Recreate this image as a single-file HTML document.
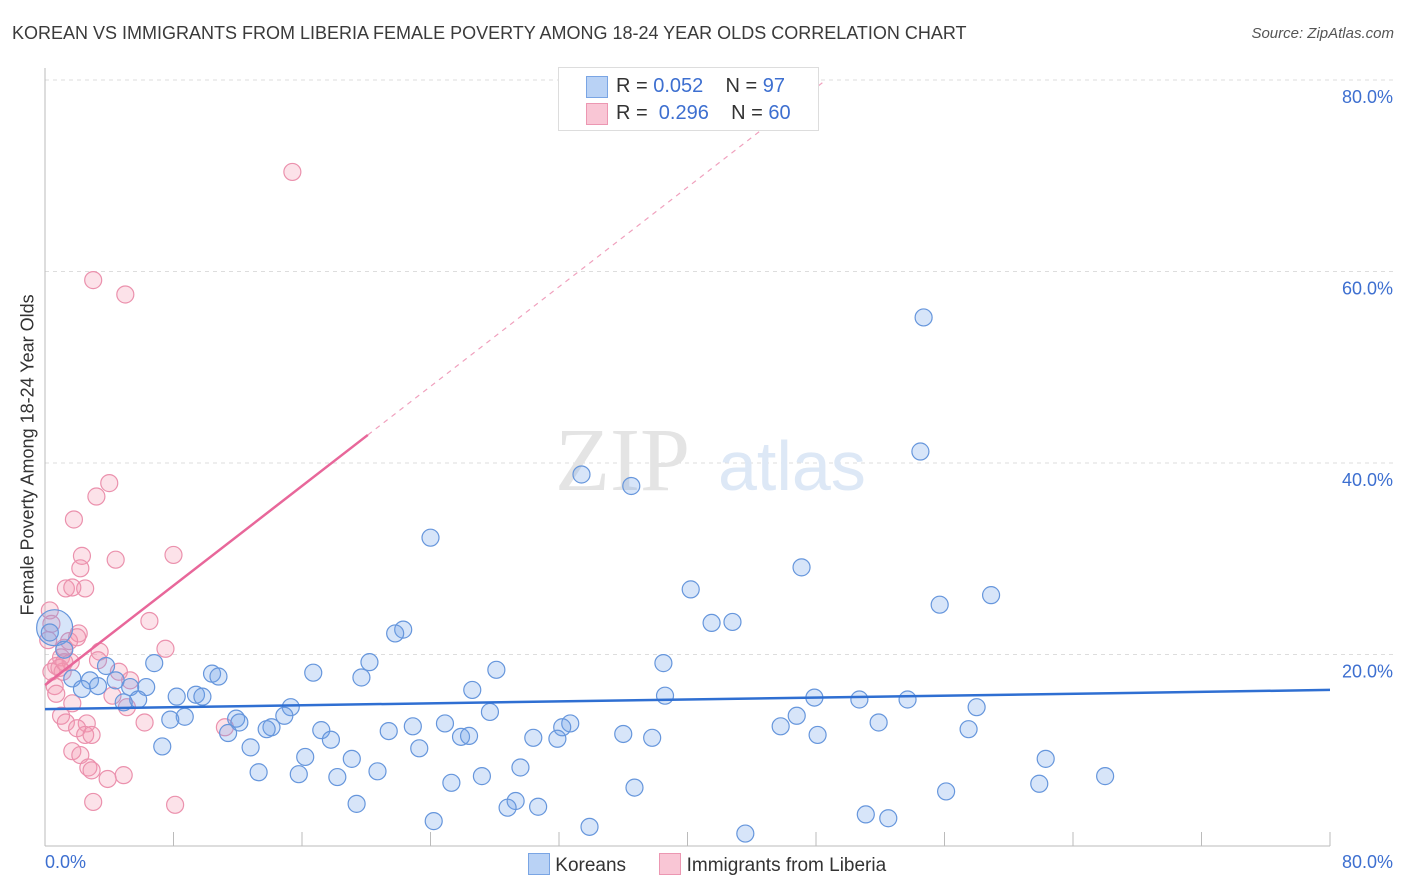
<!DOCTYPE html>
<html><head><meta charset="utf-8"><style>
body{margin:0;background:#fff;font-family:"Liberation Sans",sans-serif}
#wrap{position:relative;width:1406px;height:892px}
.t{position:absolute;white-space:nowrap}
</style></head><body>
<div id="wrap">
<div class="t" style="left:12px;top:23px;font-size:18px;color:#3a3a3a">KOREAN VS IMMIGRANTS FROM LIBERIA FEMALE POVERTY AMONG 18-24 YEAR OLDS CORRELATION CHART</div>
<div class="t" style="right:12px;top:25px;font-size:15px;color:#555;font-style:italic">Source: ZipAtlas.com</div>
<svg id="svg" width="1406" height="892" style="position:absolute;left:0;top:0"></svg>
</div>
<script>
const koreanX=[54.7,54.5,33.4,36.5,24.0,40.2,47.1,58.9,55.7,41.5,42.8,22.3,21.8,0.6,0.3,1.2,6.8,3.8,20.2,28.1,38.5,16.7,10.4,10.8,19.7,1.7,2.8,4.4,3.3,5.3,6.3,2.3,26.6,9.4,8.2,9.8,38.6,47.9,50.7,53.7,5.8,4.9,15.3,58.0,27.7,46.8,14.9,8.7,7.8,11.9,12.1,24.9,32.7,51.9,22.9,32.2,14.1,13.8,45.8,21.4,17.2,57.5,11.4,36.0,25.9,26.4,37.8,48.1,30.4,31.9,17.8,7.3,12.8,23.3,16.2,19.1,62.3,29.6,13.3,20.7,15.8,18.2,27.2,66.0,25.3,61.9,36.7,56.1,29.3,19.4,30.7,28.8,51.1,52.5,24.2,33.9,43.6];
const koreanY=[55.2,41.2,38.8,37.6,32.2,26.8,29.1,26.2,25.2,23.3,23.4,22.6,22.2,22.8,22.3,20.5,19.1,18.8,19.2,18.4,19.1,18.1,18.0,17.7,17.6,17.5,17.3,17.3,16.7,16.6,16.6,16.4,16.3,15.8,15.6,15.6,15.7,15.5,15.3,15.3,15.3,15.0,14.5,14.5,14.0,13.6,13.6,13.5,13.2,13.3,12.9,12.8,12.8,12.9,12.5,12.4,12.4,12.2,12.5,12.0,12.1,12.2,11.8,11.7,11.4,11.5,11.3,11.6,11.3,11.2,11.1,10.4,10.3,10.2,9.3,9.1,9.1,8.2,7.7,7.8,7.5,7.2,7.3,7.3,6.6,6.5,6.1,5.7,4.7,4.4,4.1,4.0,3.3,2.9,2.6,2.0,1.3];
const liberiaX=[15.4,3.0,5.0,4.0,3.2,1.8,2.3,8.0,4.4,2.2,1.3,2.5,1.7,0.3,6.5,0.4,2.1,0.2,1.5,2.0,1.2,7.5,3.4,1.0,3.3,1.6,0.7,4.6,0.4,1.1,5.3,0.6,0.7,4.2,1.7,5.1,1.0,2.6,6.2,1.3,11.2,2.0,2.5,2.9,1.7,2.2,2.7,2.9,4.9,3.9,3.0,8.1,0.9,1.2];
const liberiaY=[70.4,59.1,57.6,37.9,36.5,34.1,30.3,30.4,29.9,29.0,26.9,26.9,27.0,24.6,23.5,23.2,22.2,21.5,21.4,21.8,20.7,20.6,20.3,19.7,19.4,19.2,18.8,18.2,18.2,18.2,17.3,16.7,15.9,15.7,14.9,14.5,13.6,12.8,12.9,12.9,12.4,12.3,11.6,11.6,9.9,9.5,8.2,7.9,7.4,7.0,4.6,4.3,18.6,19.2];
const xTicks=[0,8,16,24,32,40,48,56,64,72,80];
const yTicks=[20,40,60,80];
const yTickLabels=["20.0%","40.0%","60.0%","80.0%"];
const blueLine=[14.3,16.3];
const pinkLine=[16.8,1.30];
const X0=45,X1=1330,Y0=846,Y80=80;
const sx=v=>X0+(X1-X0)*v/80, sy=v=>Y0-(Y0-Y80)*v/80;
const svg=document.getElementById('svg');const NS='http://www.w3.org/2000/svg';
function mk(t,a,p){const e=document.createElementNS(NS,t);for(const k in a)e.setAttribute(k,a[k]);(p||svg).appendChild(e);return e;}
yTicks.forEach((v,i)=>{const g=mk('line',{x1:X0,x2:1394,y1:sy(v),y2:sy(v),stroke:'#ddd','stroke-dasharray':'4,4'});


const t=mk('text',{x:1393,y:sy(v)+23,'text-anchor':'end','font-size':18,fill:'#3d6fd0','font-family':'Liberation Sans'});t.textContent=yTickLabels[i];

});
mk('line',{x1:X0,x2:X0,y1:68,y2:Y0,stroke:'#bbb'});
mk('line',{x1:X0,x2:X1,y1:Y0,y2:Y0,stroke:'#bbb'});
xTicks.forEach(v=>{const l=mk('line',{x1:sx(v),x2:sx(v),y1:Y0,y2:Y0-14,stroke:'#bbb'});

});
const w=mk('text',{x:555,y:490,'font-size':90,fill:'#e4e4e4','font-family':'Liberation Serif'});w.textContent='ZIP';


const w2=mk('text',{x:718,y:490,'font-size':70,fill:'#dde8f6','font-family':'Liberation Sans'});w2.textContent='atlas';


function pts(xs,ys,fill,stroke,name,big){xs.forEach((x,i)=>{const r=(big&&i===big)?18:8.5;
const c=mk('circle',{cx:sx(x),cy:sy(ys[i]),r:r,fill:fill,stroke:stroke,'stroke-width':1.2});

});}
pts(liberiaX,liberiaY,'rgba(245,150,175,0.28)','#eb91ad','liberia-point',0);
pts(koreanX,koreanY,'rgba(110,160,235,0.28)','#6696dc','korean-point',13);
const bl=mk('line',{x1:sx(0),y1:sy(blueLine[0]),x2:sx(80),y2:sy(blueLine[1]),stroke:'#2f6fd2','stroke-width':2.5});

const xe=20.1;
const pl=mk('line',{x1:sx(0),y1:sy(pinkLine[0]),x2:sx(xe),y2:sy(pinkLine[0]+pinkLine[1]*xe),stroke:'#e8679a','stroke-width':2.5});

const xd=(80-pinkLine[0])/pinkLine[1];
const pd=mk('line',{x1:sx(xe),y1:sy(pinkLine[0]+pinkLine[1]*xe),x2:sx(xd),y2:sy(80),stroke:'#f0a0bd','stroke-width':1.2,'stroke-dasharray':'5,5'});

</script>
<div class="t" style="left:45px;top:852px;font-size:18px;color:#3d6fd0">0.0%</div>
<div class="t" style="right:13px;top:852px;font-size:18px;color:#3d6fd0">80.0%</div>
<div class="t" style="left:-82px;top:445px;font-size:18px;color:#333;transform:rotate(-90deg);width:220px;text-align:center;margin-top:50px">Female Poverty Among 18-24 Year Olds</div>
<div style="position:absolute;left:558px;top:67px;width:259px;height:62px;border:1px solid #ddd;background:#fff;font-size:20px;color:#333">
 <div style="position:absolute;left:27px;top:8px;width:20px;height:20px;background:#b9d2f5;border:1px solid #7aa5e4"></div>
 <div class="t" style="left:57px;top:7px">R = <span style="color:#3d6fd0">0.052</span>&nbsp;&nbsp;&nbsp; N = <span style="color:#3d6fd0">97</span></div>
 <div style="position:absolute;left:27px;top:35px;width:20px;height:20px;background:#f9c6d5;border:1px solid #ec97b2"></div>
 <div class="t" style="left:57px;top:34px">R = <span style="color:#3d6fd0">&nbsp;0.296</span>&nbsp;&nbsp;&nbsp; N = <span style="color:#3d6fd0">60</span></div>
</div>
<div style="position:absolute;left:528px;top:853px;font-size:19px;color:#333">
 <span><span style="display:inline-block;width:20px;height:20px;background:#b9d2f5;border:1px solid #7aa5e4;vertical-align:-4px"></span> Koreans</span>
 <span style="margin-left:28px"><span style="display:inline-block;width:20px;height:20px;background:#f9c6d5;border:1px solid #ec97b2;vertical-align:-4px"></span> Immigrants from Liberia</span>
</div>
</body></html>
